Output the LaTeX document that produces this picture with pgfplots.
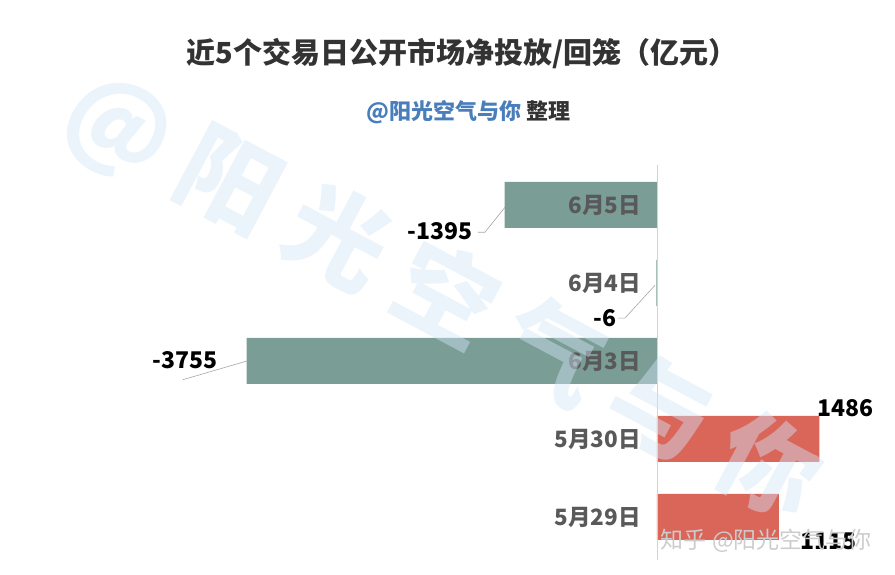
\documentclass[border=0pt]{standalone}
\usepackage{pgfplots}
\pgfplotsset{compat=1.18}
\usepackage{fontspec}
\setmainfont{Noto Sans CJK SC}
\definecolor{grn}{HTML}{7A9E96}
\definecolor{rd}{HTML}{DA665A}
\definecolor{lbl}{HTML}{595959}
\definecolor{ttl}{HTML}{333333}
\definecolor{sub}{HTML}{4A7EBB}
\definecolor{wm}{HTML}{D3E4F6}
\begin{document}
\begin{tikzpicture}
\path[use as bounding box] (0,0) rectangle (895pt,575pt);
\begin{axis}[
  at={(0,0)}, anchor=south west,
  scale only axis, width=895pt, height=575pt,
  xmin=-6011, xmax=2178, ymin=-0.744, ymax=6.628,
  hide axis, clip=false,
]
\addplot[xbar, bar shift=0pt, bar width=46pt, fill=grn, draw=none] coordinates {(-1395,4) (-6,3) (-3755,2)};
\addplot[xbar, bar shift=0pt, bar width=46pt, fill=rd, draw=none] coordinates {(1486,1) (1115,0)};
\draw[gray!35, line width=0.8pt] (axis cs:0,4.51) -- (axis cs:0,-0.55);
% category labels
\node[anchor=east, text=lbl, font=\fontsize{22.5}{24}\selectfont\bfseries, inner sep=0pt] at (axis cs:-146,4) {6月5日};
\node[anchor=east, text=lbl, font=\fontsize{22.5}{24}\selectfont\bfseries, inner sep=0pt] at (axis cs:-146,3) {6月4日};
\node[anchor=east, text=lbl, font=\fontsize{22.5}{24}\selectfont\bfseries, inner sep=0pt] at (axis cs:-146,2) {6月3日};
\node[anchor=east, text=lbl, font=\fontsize{22.5}{24}\selectfont\bfseries, inner sep=0pt] at (axis cs:-146,1) {5月30日};
\node[anchor=east, text=lbl, font=\fontsize{22.5}{24}\selectfont\bfseries, inner sep=0pt] at (axis cs:-146,0) {5月29日};
% value labels
\node[font=\fontsize{23}{24}\selectfont\bfseries, inner sep=0pt] at (axis cs:-1985,3.67) {-1395};
\draw[gray!70, line width=0.6pt] (axis cs:-1638,3.65) -- (axis cs:-1574,3.65) -- (axis cs:-1391,3.97);
\node[font=\fontsize{23}{24}\selectfont\bfseries, inner sep=0pt] at (axis cs:-476,2.55) {-6};
\draw[gray!70, line width=0.6pt] (axis cs:-357,2.55) -- (axis cs:-293,2.55) -- (axis cs:-18,2.97);
\node[font=\fontsize{23}{24}\selectfont\bfseries, inner sep=0pt] at (axis cs:-4318,2.01) {-3755};
\draw[gray!70, line width=0.6pt] (axis cs:-4337,1.76) -- (axis cs:-3751,2.0);
\node[font=\fontsize{23}{24}\selectfont\bfseries, inner sep=0pt] at (axis cs:1729,1.40) {1486};
\node[font=\fontsize{23}{24}\selectfont\bfseries, inner sep=0pt] at (axis cs:1565,-0.31) {1115};
% titles
\node[text=ttl, font=\fontsize{29}{30}\selectfont\bfseries] at (rel axis cs:0.516,0.907) {近5个交易日公开市场净投放/回笼（亿元）};
\node[font=\fontsize{22}{24}\selectfont\bfseries] at (rel axis cs:0.523,0.805) {\textcolor{sub}{@阳光空气与你} \textcolor{ttl}{整理}};
% watermark
\node[text=wm, opacity=0.45, rotate=-28, font=\fontsize{100}{110}\selectfont\bfseries] at (rel axis cs:0.494,0.483) {@\hspace{22pt}阳\hspace{22pt}光\hspace{22pt}空\hspace{22pt}气\hspace{22pt}与\hspace{22pt}你};
\node[text=gray!40, font=\fontsize{23}{24}\selectfont, anchor=east] at (rel axis cs:0.978,0.060) {知乎 @阳光空气与你};
\end{axis}
\end{tikzpicture}
\end{document}
